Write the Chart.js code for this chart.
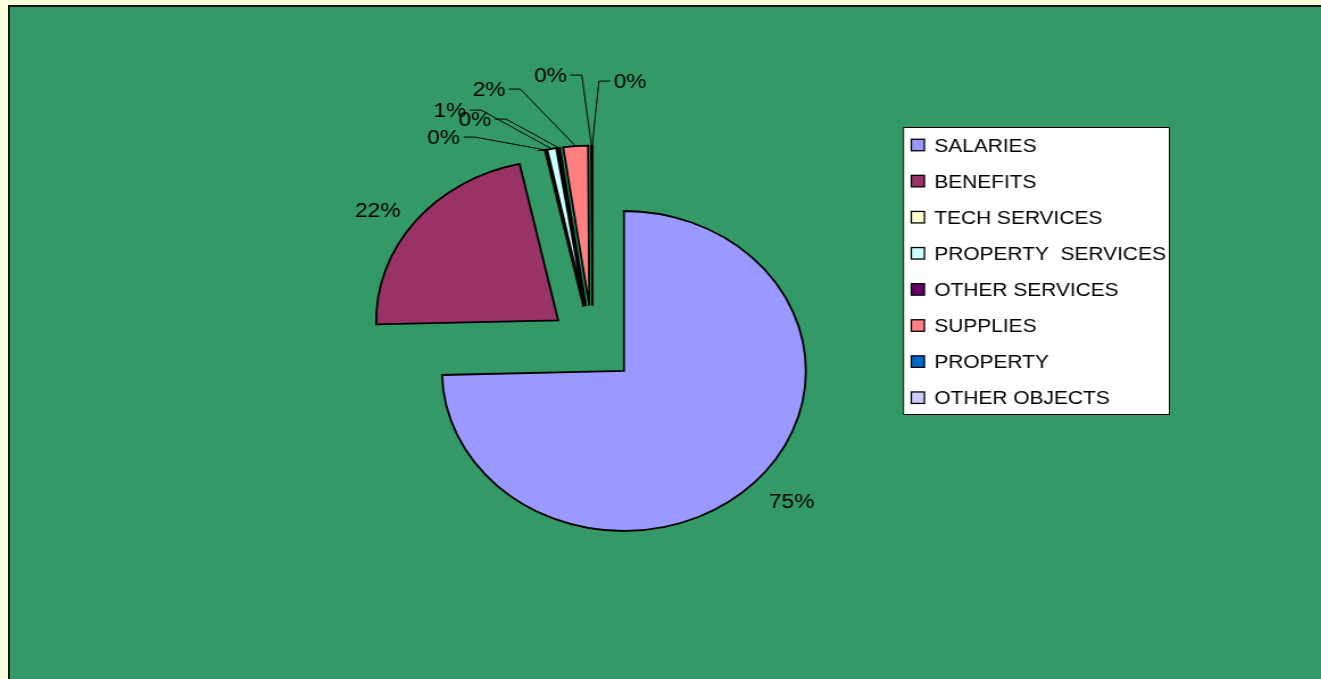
<!DOCTYPE html>
<html>
<head>
<meta charset="utf-8">
<title>Expenditure by object</title>
<script src="https://cdn.jsdelivr.net/npm/chart.js@4"></script>
<style>
  html, body { margin: 0; padding: 0; width: 1321px; height: 679px; overflow: hidden; background: #FFFFE0; }
  #frame { position: absolute; left: 8px; top: 5px; width: 1400px; height: 800px; background: #339966; border: 2px solid #111; }
  /* the chart is laid out on a narrower canvas and widened, so the pie reads as an ellipse */
  #stage { position: absolute; left: 0; top: 0; transform-origin: 0 0; transform: scale(1.137, 1); }
</style>
</head>
<body>
<div id="frame"></div>
<div id="stage"><canvas id="pie" width="1162" height="679"></canvas></div>
<script>
// Spending categories and their share of the total (percent)
const categories = ['SALARIES', 'BENEFITS', 'TECH SERVICES', 'PROPERTY  SERVICES',
                    'OTHER SERVICES', 'SUPPLIES', 'PROPERTY', 'OTHER OBJECTS'];
const shares = [74.6, 22.0, 0.1, 0.8, 0.2, 2.2, 0.05, 0.05];

const sliceColors = ['#9999FF', '#993366', '#FFFFCC', '#CCFFFF', '#660066', '#FF8080', '#0066CC', '#CCCCFF'];

// Pull every slice out from the centre along its mid-angle by the same distance,
// keeping the full sweep and the same radius for each slice.
const explodeSlices = {
  id: 'explodeSlices',
  beforeDatasetDraw(chart, args, opts) {
    for (const arc of args.meta.data) {
      const mid = (arc.startAngle + arc.endAngle) / 2;
      arc.$home = [arc.x, arc.y];
      arc.x += Math.cos(mid) * opts.distance;
      arc.y += Math.sin(mid) * opts.distance;
    }
  },
  afterDatasetDraw(chart, args) {
    for (const arc of args.meta.data) {
      if (arc.$home) { arc.x = arc.$home[0]; arc.y = arc.$home[1]; }
    }
  }
};

// Percentage labels, with leader lines for the thin slices
const sliceLabels = {
  id: 'sliceLabels',
  afterDatasetsDraw(chart, args, opts) {
    const ctx = chart.ctx;
    const meta = chart.getDatasetMeta(0);
    const values = chart.data.datasets[0].data;
    const total = values.reduce((a, b) => a + b, 0);
    const dist = chart.options.plugins.explodeSlices.distance;
    ctx.save();
    ctx.font = opts.font;
    ctx.fillStyle = '#000';
    ctx.strokeStyle = '#000';
    ctx.lineWidth = 1;
    ctx.textAlign = 'center';
    ctx.textBaseline = 'middle';
    meta.data.forEach((arc, i) => {
      const mid = (arc.startAngle + arc.endAngle) / 2;
      const ex = arc.x + Math.cos(mid) * (dist + arc.outerRadius);
      const ey = arc.y + Math.sin(mid) * (dist + arc.outerRadius);
      const spot = opts.spots[i];
      const lx = arc.x + spot[0];
      const ly = arc.y + spot[1];
      const text = Math.round(values[i] * 100 / total) + '%';
      ctx.fillText(text, lx, ly + 1.5);
      if (spot[2]) {
        const w = ctx.measureText(text).width;
        const sx = lx + spot[2] * (w / 2 + 3);
        const kx = sx + spot[2] * 10;
        ctx.beginPath();
        ctx.moveTo(sx, ly);
        ctx.lineTo(kx, ly);
        ctx.lineTo(ex, ey);
        ctx.stroke();
      }
    });
    ctx.restore();
  }
};

// Boxed key on the right
const keyPanel = {
  id: 'keyPanel',
  afterDraw(chart, args, o) {
    const ctx = chart.ctx;
    const ds = chart.data.datasets[0];
    ctx.save();
    ctx.fillStyle = '#FFFFFF';
    ctx.fillRect(o.left, o.top, o.width, o.height);
    ctx.strokeStyle = '#000';
    ctx.lineWidth = 1;
    ctx.strokeRect(o.left + 0.5, o.top + 0.5, o.width - 1, o.height - 1);
    ctx.font = o.font;
    ctx.textAlign = 'left';
    ctx.textBaseline = 'middle';
    chart.data.labels.forEach((name, i) => {
      const cy = o.firstRow + i * o.rowGap;
      ctx.fillStyle = ds.backgroundColor[i];
      ctx.fillRect(o.boxX, cy - o.box / 2, o.box, o.box);
      ctx.lineWidth = 1.3;
      ctx.strokeStyle = '#000';
      ctx.strokeRect(o.boxX, cy - o.box / 2, o.box, o.box);
      ctx.fillStyle = '#000';
      ctx.fillText(name, o.textX, cy + 1.5);
    });
    ctx.restore();
  }
};

new Chart(document.getElementById('pie'), {
  type: 'pie',
  data: {
    labels: categories,
    datasets: [{
      data: shares,
      backgroundColor: sliceColors,
      borderColor: '#000',
      borderWidth: 1.8,
      borderJoinStyle: 'miter',
      radius: 160
    }]
  },
  options: {
    responsive: false,
    animation: false,
    events: [],
    layout: { padding: { left: 0, top: 9.2, right: 119.6, bottom: 0 } },
    plugins: {
      legend: { display: false },
      tooltip: { enabled: false },
      explodeSlices: { distance: 38.5 },
      sliceLabels: {
        font: '20px "Liberation Sans", Arial, sans-serif',
        spots: [
          [175, 157, 0],
          [-189, -134, 0],
          [-131, -207, 1],
          [-125.5, -234, 1],
          [-103.5, -225, 1],
          [-91, -255, 1],
          [-37, -269, 1],
          [33, -263, -1]
        ]
      },
      keyPanel: {
        left: 794.2, top: 127, width: 234.8, height: 288,
        firstRow: 145, rowGap: 36.1,
        boxX: 801.5, box: 11.5, textX: 821.7,
        font: '18.4px "Liberation Sans", Arial, sans-serif'
      }
    }
  },
  plugins: [explodeSlices, sliceLabels, keyPanel]
});
</script>
</body>
</html>
